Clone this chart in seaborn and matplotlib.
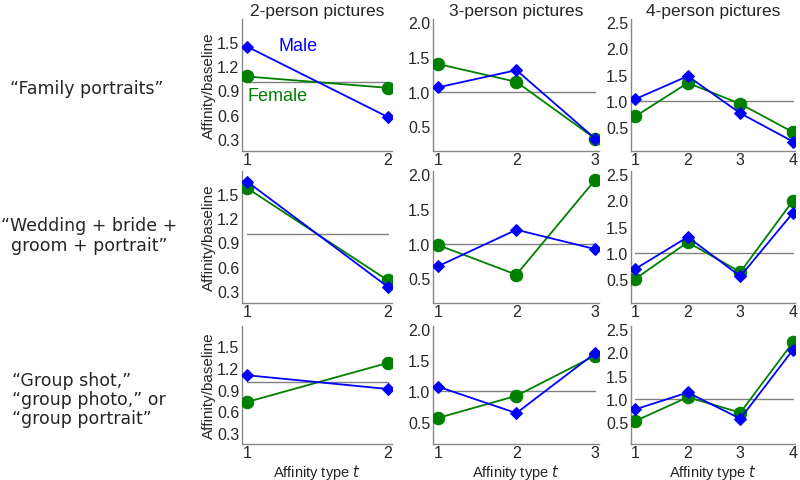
import numpy as np
import pandas as pd
import matplotlib
matplotlib.use("Agg")
import matplotlib.pyplot as plt
import seaborn as sns

sns.set_theme(style="white")
plt.rcParams['font.family'] = ['Liberation Sans', 'DejaVu Sans']

# data
row_labels = ["\u201cFamily portraits\u201d",
              "\u201cWedding + bride +\ngroom + portrait\u201d",
              "\u201cGroup shot,\u201d\n\u201cgroup photo,\u201d or\n\u201cgroup portrait\u201d"]
col_titles = ["2-person pictures", "3-person pictures", "4-person pictures"]

male = [
    [[1.44, 0.57], [1.06, 1.31, 0.32], [1.03, 1.47, 0.76, 0.22]],
    [[1.65, 0.35], [0.67, 1.20, 0.92], [0.69, 1.30, 0.55, 1.76]],
    [[1.10, 0.91], [1.07, 0.64, 1.61], [0.78, 1.14, 0.58, 2.05]],
]
female = [
    [[1.07, 0.93], [1.40, 1.14, 0.32], [0.70, 1.34, 0.94, 0.40]],
    [[1.57, 0.43], [0.98, 0.55, 1.92], [0.50, 1.20, 0.63, 1.99]],
    [[0.73, 1.27], [0.56, 0.92, 1.57], [0.53, 1.04, 0.71, 2.21]],
]
baseline = 1.0
yticks = [[0.3, 0.6, 0.9, 1.2, 1.5], [0.5, 1.0, 1.5, 2.0], [0.5, 1.0, 1.5, 2.0, 2.5]]
ylims = [(0.15, 1.78), (0.14, 2.05), (0.04, 2.56)]
xlims = [(0.965, 2.03), (0.94, 3.05), (0.92, 4.04)]

BLUE = "#0000ff"
GREEN = "#008000"

fig = plt.figure(figsize=(8, 4.81), dpi=100)
W, H = 800, 481
col_px = [(242, 150), (433, 166), (631, 164)]
row_px = [(20, 132), (172, 132), (327, 118)]

for r in range(3):
    for c in range(3):
        left, width = col_px[c]
        top, height = row_px[r]
        ax = fig.add_axes([left / W, 1 - (top + height) / H, width / W, height / H])
        n = c + 2
        t = list(range(1, n + 1))
        df = pd.DataFrame({"t": t + t,
                           "val": male[r][c] + female[r][c],
                           "sex": ["Male"] * n + ["Female"] * n})
        ax.plot([1, n], [baseline, baseline], color="#808080", lw=1.0, zorder=1)
        sns.lineplot(data=df[df.sex == "Female"], x="t", y="val", ax=ax,
                     color=GREEN, marker="o", markersize=9, markeredgecolor=GREEN,
                     lw=1.3, zorder=3)
        sns.lineplot(data=df[df.sex == "Male"], x="t", y="val", ax=ax,
                     color=BLUE, marker="D", markersize=6.5, markeredgecolor=BLUE,
                     lw=1.3, zorder=4)
        ax.set_xlim(*xlims[c])
        ax.set_ylim(*ylims[c])
        ax.set_xticks(t)
        ax.set_yticks(yticks[c])
        ax.set_yticklabels([f"{v:.1f}" for v in yticks[c]])
        ax.tick_params(labelsize=11.5, length=3, width=0.8, color="#888888",
                       direction="in", pad=2)
        ax.tick_params(axis="x", pad=1)
        for s in ["top", "right"]:
            ax.spines[s].set_visible(False)
        for s in ["left", "bottom"]:
            ax.spines[s].set_color("#888888")
            ax.spines[s].set_linewidth(1.0)
        ax.set_ylabel("Affinity/baseline" if c == 0 else "", fontsize=11, labelpad=1)
        if r == 2:
            ax.set_xlabel("Affinity type $t$", fontsize=10.5)
            ax.xaxis.set_label_coords(0.5, -0.155)
        else:
            ax.set_xlabel("")
        if r == 0:
            ax.set_title(col_titles[c], fontsize=12.5, pad=3)
        if r == 0 and c == 0:
            ax.text(1.36, 1.45, "Male", color=BLUE, fontsize=13, ha="center", va="center")
            ax.text(1.22, 0.84, "Female", color=GREEN, fontsize=13, ha="center", va="center")

# row labels: (x px, y px, horizontal alignment)
row_pos = [(10, 89, "left"), (89, 236, "center"), (12, 400, "left")]
for r in range(3):
    x, y, ha = row_pos[r]
    fig.text(x / W, 1 - y / H, row_labels[r], fontsize=12.5,
             family="DejaVu Sans", ha=ha, va="center", multialignment=ha,
             linespacing=1.1)

fig.savefig("out.png", dpi=100)
